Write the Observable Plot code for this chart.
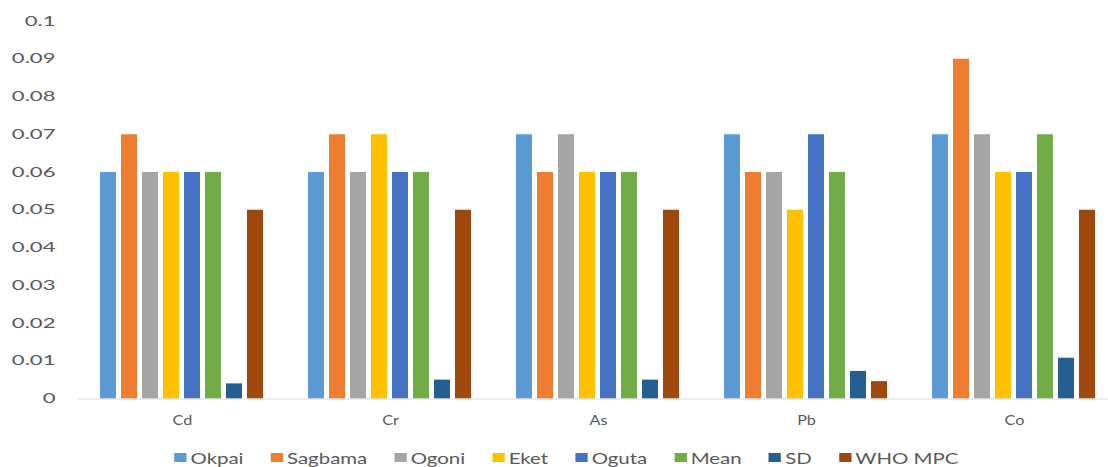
<!DOCTYPE html>
<html>
<head>
<meta charset="utf-8">
<script src="https://cdn.jsdelivr.net/npm/d3@7"></script>
<script src="https://cdn.jsdelivr.net/npm/@observablehq/plot@0.6"></script>
<style>
  body { margin: 0; background: #fff; overflow: hidden; font-family: Lato, "Liberation Sans", sans-serif; }
  #chart svg { display: block; max-width: none !important; }
  #legend { width: 1108px; height: 27px; margin-top: 4px; display: flex; justify-content: center; align-items: center; }
  #legend .inner { display: flex; align-items: center; gap: 20px; transform: scaleX(1.36); transform-origin: center; position: relative; left: 12px; }
  #legend .item { display: flex; align-items: center; font-size: 15px; color: #595959; white-space: nowrap; }
  #legend .sw { width: 9px; height: 9px; margin-right: 3px; }
</style>
</head>
<body>
<div id="chart"></div>
<div id="legend"></div>
<script>
// Heavy metal concentrations by site (mg/kg), with mean, SD and the WHO limit
const elements = ["Cd", "Cr", "As", "Pb", "Co"];
const series = ["Okpai", "Sagbama", "Ogoni", "Eket", "Oguta", "Mean", "SD", "WHO MPC"];

const okpai   = [0.06, 0.06, 0.07, 0.07, 0.07];
const sagbama = [0.07, 0.07, 0.06, 0.06, 0.09];
const ogoni   = [0.06, 0.06, 0.07, 0.06, 0.07];
const eket    = [0.06, 0.07, 0.06, 0.05, 0.06];
const oguta   = [0.06, 0.06, 0.06, 0.07, 0.06];
const mean    = [0.06, 0.06, 0.06, 0.06, 0.07];
const sd      = [0.004, 0.005, 0.005, 0.0073, 0.0108];
const whoMpc  = [0.05, 0.05, 0.05, 0.0046, 0.05];

const colors = ["#5B9BD5", "#ED7D31", "#A5A5A5", "#FFC000", "#4472C4", "#70AD47", "#255E91", "#9E480E"];

const yTicks = [0, 0.01, 0.02, 0.03, 0.04, 0.05, 0.06, 0.07, 0.08, 0.09, 0.1];
const yTickLabels = ["0", "0.01", "0.02", "0.03", "0.04", "0.05", "0.06", "0.07", "0.08", "0.09", "0.1"];

const columns = [okpai, sagbama, ogoni, eket, oguta, mean, sd, whoMpc];
const rows = [];
elements.forEach((el, i) => {
  series.forEach((s, j) => rows.push({ element: el, series: s, value: columns[j][i] }));
});

const textColor = "#595959";

const chart = Plot.plot({
  width: 1118,
  height: 440,
  marginLeft: 78,
  marginRight: 0,
  marginTop: 21,
  marginBottom: 41.5,
  style: { fontFamily: "Lato, 'Liberation Sans', sans-serif", color: textColor, background: "#fff", maxWidth: "none" },
  fx: { domain: elements, padding: 0, label: null, axis: null },
  x: { domain: series, paddingInner: 0.23, paddingOuter: 0.885, axis: null },
  y: { domain: [0, 0.1], axis: null, label: null },
  color: { domain: series, range: colors },
  marks: [
    Plot.barY(rows, { fx: "element", x: "series", y: "value", fill: "series" }),
    Plot.ruleY([0], { stroke: "#D9D9D9", strokeWidth: 1 }),
    Plot.axisY(yTicks, {
      tickSize: 0,
      tickPadding: 23,
      fontSize: 13,
      fill: textColor,
      label: null,
      tickFormat: d => yTickLabels[yTicks.indexOf(d)]
    }),
    Plot.axisFx({ anchor: "bottom", tickSize: 0, tickPadding: 16, fontSize: 13.5, fill: textColor, label: null })
  ]
});

// Widen the label lettering horizontally around each label's anchor
function stretchText(selector, k) {
  chart.querySelectorAll(selector).forEach(t => {
    const tr = t.getAttribute("transform") || "";
    t.setAttribute("transform", `${tr} scale(${k},1)`);
  });
}
stretchText('g[aria-label="y-axis tick label"] text', 1.7);
stretchText('g[aria-label="fx-axis tick label"] text', 1.2);

document.getElementById("chart").append(chart);

// Legend row below the plot
const inner = document.createElement("div");
inner.className = "inner";
series.forEach((s, j) => {
  const item = document.createElement("div");
  item.className = "item";
  const sw = document.createElement("span");
  sw.className = "sw";
  sw.style.background = colors[j];
  const label = document.createElement("span");
  label.textContent = s;
  item.append(sw, label);
  inner.append(item);
});
document.getElementById("legend").append(inner);
</script>
</body>
</html>
